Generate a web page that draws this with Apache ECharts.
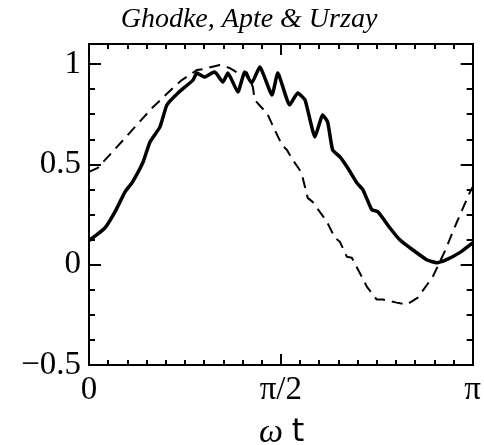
<!DOCTYPE html>
<html>
<head>
<meta charset="utf-8">
<script src="https://cdn.jsdelivr.net/npm/echarts@6/dist/echarts.min.js"></script>
<style>
html,body{margin:0;padding:0;background:#fff;}
#chart{width:484px;height:445px;}
</style>
</head>
<body>
<div id="chart"></div>
<script>
// x in units of pi (omega t / pi)
const solidX = [0.0, 0.042, 0.068, 0.094, 0.112, 0.141, 0.159, 0.185, 0.203, 0.232, 0.271, 0.281, 0.302, 0.320, 0.328, 0.349, 0.362, 0.388, 0.406, 0.424, 0.445, 0.477, 0.492, 0.523, 0.544, 0.563, 0.589, 0.609, 0.622, 0.635, 0.654, 0.674, 0.698, 0.714, 0.737, 0.753, 0.784, 0.810, 0.836, 0.880, 0.906, 0.932, 0.966, 1.0];
const solidY = [0.12, 0.184, 0.264, 0.363, 0.408, 0.512, 0.612, 0.687, 0.796, 0.856, 0.920, 0.955, 0.935, 0.955, 0.960, 0.910, 0.955, 0.861, 0.960, 0.905, 0.985, 0.846, 0.955, 0.796, 0.856, 0.821, 0.637, 0.746, 0.711, 0.572, 0.537, 0.483, 0.408, 0.373, 0.274, 0.264, 0.184, 0.124, 0.085, 0.025, 0.010, 0.025, 0.060, 0.109];
const dashX = [0.0, 0.023, 0.073, 0.120, 0.167, 0.219, 0.242, 0.281, 0.297, 0.341, 0.367, 0.398, 0.411, 0.427, 0.432, 0.451, 0.464, 0.484, 0.503, 0.516, 0.531, 0.549, 0.557, 0.570, 0.583, 0.620, 0.641, 0.654, 0.672, 0.685, 0.711, 0.724, 0.750, 0.766, 0.802, 0.828, 0.857, 0.896, 0.927, 0.958, 0.992, 1.0];
const dashY = [0.463, 0.483, 0.587, 0.687, 0.786, 0.881, 0.920, 0.970, 0.975, 0.995, 0.980, 0.945, 0.960, 0.886, 0.821, 0.781, 0.756, 0.672, 0.597, 0.572, 0.522, 0.473, 0.433, 0.333, 0.313, 0.214, 0.134, 0.114, 0.040, 0.035, -0.060, -0.109, -0.174, -0.174, -0.189, -0.199, -0.164, -0.060, 0.065, 0.209, 0.358, 0.388];
const xTickLabels = {0: '0', 0.5: 'π/2', 1: 'π'};
const yTickLabels = {'-0.5': '−0.5', '0': '0', '0.5': '0.5', '1': '1'};
const titleText = 'Ghodke, Apte & Urzay';

const pair = (xs, ys) => xs.map((x, i) => [x, ys[i]]);
const black = '#000';
const serif = 'Liberation Serif';

function xAxisDef(pos, labels) {
  return {
    type: 'value', position: pos, min: 0, max: 1, interval: 0.5,
    axisLine: {show: true, onZero: false, lineStyle: {color: black, width: 2}},
    axisTick: {show: true, inside: true, length: 11, lineStyle: {color: black, width: 2}},
    minorTick: {show: true, splitNumber: 10, length: 5, lineStyle: {color: black, width: 2}},
    splitLine: {show: false}, minorSplitLine: {show: false},
    axisLabel: labels ? {
      show: true, margin: 9, color: black, fontFamily: serif, fontSize: 33,
      formatter: v => { const k = Math.round(v * 2) / 2; return Math.abs(v - k) < 1e-6 ? (xTickLabels[k] || '') : ''; }
    } : {show: false}
  };
}
function yAxisDef(pos, interval, len, labels) {
  return {
    type: 'value', position: pos, min: -0.5, max: 1.1, interval: interval, offset: 0,
    axisLine: {show: true, onZero: false, lineStyle: {color: black, width: 2}},
    axisTick: {show: true, inside: true, length: len, lineStyle: {color: black, width: 2}},
    splitLine: {show: false},
    axisLabel: labels ? {
      show: true, margin: 8, color: black, fontFamily: serif, fontSize: 33,
      formatter: v => { const k = Math.round(v * 2) / 2; return Math.abs(v - k) < 1e-6 ? (yTickLabels[String(k)] || '') : ''; }
    } : {show: false}
  };
}

const chart = echarts.init(document.getElementById('chart'));
chart.setOption({
  animation: false,
  backgroundColor: '#fff',
  grid: {left: 89, right: 11, top: 44, bottom: 80, containLabel: false},
  xAxis: [xAxisDef('bottom', true), xAxisDef('top', false)],
  yAxis: [
    yAxisDef('left', 0.5, 12, true),
    yAxisDef('left', 0.125, 6, false),
    yAxisDef('right', 0.5, 12, false),
    yAxisDef('right', 0.125, 6, false)
  ],
  series: [
    {type: 'line', xAxisIndex: 0, yAxisIndex: 0, data: pair(dashX, dashY), showSymbol: false, symbol: 'none',
     lineStyle: {color: black, width: 2, type: [11, 7]}},
    {type: 'line', xAxisIndex: 0, yAxisIndex: 0, data: pair(solidX, solidY), showSymbol: false, symbol: 'none', smooth: 0.15,
     lineStyle: {color: black, width: 3.5}}
  ],
  graphic: [
    {type: 'text', x: 249, y: 20, style: {text: titleText, fill: black, font: 'italic 28px "Liberation Serif"', textAlign: 'center', textVerticalAlign: 'middle'}},
    {type: 'text', x: 271, y: 433, style: {text: 'ω', fill: black, font: 'italic 34px "Liberation Serif"', textAlign: 'center', textVerticalAlign: 'middle'}},
    {type: 'text', x: 298, y: 433, style: {text: 't', fill: black, font: '32px "DejaVu Sans"', textAlign: 'center', textVerticalAlign: 'middle'}}
  ]
});
</script>
</body>
</html>
